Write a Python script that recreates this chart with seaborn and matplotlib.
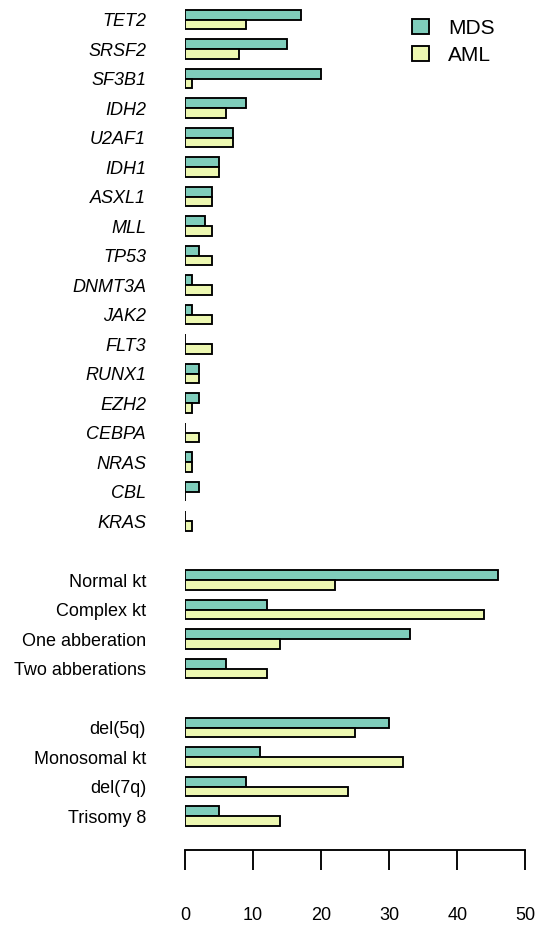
import matplotlib
matplotlib.use("Agg")
import matplotlib.pyplot as plt
import pandas as pd
import seaborn as sns

# Mutation frequencies (%) by gene
genes = ["TET2", "SRSF2", "SF3B1", "IDH2", "U2AF1", "IDH1", "ASXL1", "MLL",
         "TP53", "DNMT3A", "JAK2", "FLT3", "RUNX1", "EZH2", "CEBPA", "NRAS",
         "CBL", "KRAS"]
genes_mds = [17, 15, 20, 9, 7, 5, 4, 3, 2, 1, 1, 0, 2, 2, 0, 1, 2, 0]
genes_aml = [9, 8, 1, 6, 7, 5, 4, 4, 4, 4, 4, 4, 2, 1, 2, 1, 0, 1]

# Karyotype complexity
karyo = ["Normal kt", "Complex kt", "One abberation", "Two abberations"]
karyo_mds = [46, 12, 33, 6]
karyo_aml = [22, 44, 14, 12]

# Specific cytogenetic lesions
lesions = ["del(5q)", "Monosomal kt", "del(7q)", "Trisomy 8"]
lesions_mds = [30, 11, 9, 5]
lesions_aml = [25, 32, 24, 14]

groups = ["MDS", "AML"]
colors = ["#7fcdbb", "#edf8b1"]
xticks = [0, 10, 20, 30, 40, 50]

rows = []
for names, mds, aml in [(genes, genes_mds, genes_aml),
                        (karyo, karyo_mds, karyo_aml),
                        (lesions, lesions_mds, lesions_aml)]:
    for n, m, a in zip(names, mds, aml):
        rows.append((n, "MDS", m))
        rows.append((n, "AML", a))
df = pd.DataFrame(rows, columns=["label", "group", "pct"])

# blank rows separate the three blocks
order = genes + [""] + karyo + [" "] + lesions

sns.set_theme(style="white")
plt.rcParams["font.family"] = ["Liberation Sans", "DejaVu Sans"]
plt.rcParams["text.color"] = "black"

W, H = 540, 927
fig = plt.figure(figsize=(W / 100, H / 100), dpi=100)
ax = fig.add_axes([185 / W, 77 / H, 340.3 / W, 850 / H])

lw = 1.35
sns.barplot(data=df, y="label", x="pct", hue="group", order=order,
            hue_order=groups, palette=colors, orient="h", width=0.66,
            errorbar=None, edgecolor="black", linewidth=lw, saturation=1,
            ax=ax)

ax.set_xlim(0, 50)
ax.set_ylim(28.15, -0.661)
ax.set_xlabel("")
ax.set_ylabel("")

for s in ["top", "right", "left"]:
    ax.spines[s].set_visible(False)
ax.spines["bottom"].set_bounds(0, 50)
ax.spines["bottom"].set_linewidth(lw)
ax.spines["bottom"].set_color("black")
ax.spines["bottom"].set_capstyle("projecting")

ax.set_xticks(xticks)
ax.set_xticklabels([str(t) for t in xticks])
ax.tick_params(axis="x", bottom=True, direction="out", length=14.4, width=lw,
               color="black", pad=27, labelsize=13, labelcolor="black")
ax.tick_params(axis="y", left=False, length=0, pad=28, labelsize=13,
               labelcolor="black")
for lbl in ax.get_yticklabels():
    if lbl.get_text() in genes:
        lbl.set_fontstyle("italic")

leg = ax.legend(loc="upper left", bbox_to_anchor=(412 / W, 1 - 18.5 / H),
                bbox_transform=fig.transFigure, frameon=False,
                fontsize=15, handlelength=0.82, handleheight=0.72,
                handletextpad=0.91, labelspacing=0.39, borderpad=0,
                borderaxespad=0)
for h in leg.legend_handles:
    h.set_linewidth(lw)
    h.set_edgecolor("black")
for t in leg.get_texts():
    t.set_color("black")

fig.savefig("out.png", dpi=100, facecolor="white")
